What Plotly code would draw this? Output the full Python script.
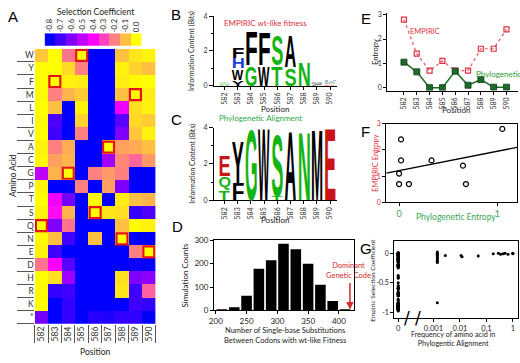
import json
import numpy as np
import plotly.graph_objects as go

W, H = 520, 363

# ---------------- data ----------------
positions = [582, 583, 584, 585, 586, 587, 588, 589, 590]
amino_acids = ['W', 'Y', 'F', 'M', 'L', 'I', 'V', 'A', 'C', 'G', 'P',
               'T', 'S', 'Q', 'N', 'E', 'D', 'H', 'R', 'K', '*']
wt_sequence = ['Q', 'F', 'G', 'W', 'S', 'A', 'N', 'M', 'E']

# selection coefficients, rows = amino_acids, cols = positions
selection_matrix = [
    [-0.09, 0.00, -0.22, 0.00, -0.92, -0.95, -0.10, -0.04, -0.02],   # W
    [0.01, 0.00, -0.06, -0.20, -0.88, -0.93, -0.02, -0.07, -0.10],   # Y
    [0.00, 0.00, -0.02, -0.03, -0.90, -0.96, -0.03, -0.01, 0.00],    # F
    [-0.01, -0.20, -0.12, -0.08, -0.87, -0.94, -0.10, 0.00, -0.03],  # M
    [0.00, -0.10, -0.85, -0.02, -0.90, -0.91, -0.42, -0.05, -0.02],  # L
    [-0.01, -0.68, -0.86, -0.07, -0.92, -0.89, -0.66, -0.06, -0.08], # I
    [0.00, -0.70, -0.83, -0.20, -0.90, -0.88, -0.60, -0.09, -0.02],  # V
    [-0.02, -0.20, -0.13, -0.84, -0.93, 0.00, -0.15, -0.13, -0.10],  # A
    [-0.01, -0.15, -0.12, -0.86, -0.95, -0.55, -0.19, -0.24, -0.16], # C
    [-0.50, -0.12, 0.00, -0.88, -0.20, -0.16, -0.20, -0.90, -0.85],  # G
    [-0.02, -0.87, -0.90, -0.20, -0.85, -0.15, -0.60, -0.88, -0.92], # P
    [0.00, -0.42, -0.62, -0.89, -0.01, -0.86, -0.03, -0.10, -0.12],  # T
    [-0.02, -0.38, -0.12, -0.90, 0.00, -0.04, -0.05, -0.72, -0.68],  # S
    [0.00, -0.60, -0.22, -0.91, -0.88, -0.87, -0.10, -0.01, -0.02],  # Q
    [-0.01, -0.10, -0.70, -0.93, -0.10, -0.90, 0.00, -0.86, -0.90],  # N
    [-0.02, -0.70, -0.80, -0.94, -0.92, -0.90, -0.89, -0.20, 0.00],  # E
    [-0.22, -0.40, -0.66, -0.95, -0.93, -0.92, -0.90, -0.78, -0.88], # D
    [0.00, -0.05, -0.55, -0.92, -0.96, -0.94, -0.05, -0.60, -0.58],  # H
    [-0.01, -0.72, -0.70, -0.93, -0.97, -0.95, -0.04, -0.70, -0.25], # R
    [0.00, -0.88, -0.72, -0.94, -0.98, -0.96, -0.86, -0.70, -0.72],  # K
    [-0.62, -0.90, -0.72, -0.80, -0.74, -0.75, -0.72, -0.73, -0.85], # *
]
colorbar_values = [-0.8, -0.7, -0.6, -0.5, -0.4, -0.3, -0.2, -0.1, 0.0]
colorbar_labels = ['-0.8', '-0.7', '-0.6', '-0.5', '-0.4', '-0.3', '-0.2', '-0.1', '0.0']

# sequence logos: per position, (letter, bits) from bottom to top
empiric_logo = [
    [('A', 0.05), ('S', 0.04), ('G', 0.04), ('T', 0.04)],
    [('Y', 0.35), ('W', 0.65), ('H', 0.6), ('F', 0.6)],
    [('G', 1.2), ('F', 2.1)],
    [('W', 1.2), ('F', 2.0)],
    [('T', 1.2), ('S', 1.8)],
    [('S', 1.05), ('A', 1.95)],
    [('N', 1.4)],
    [('L', 0.05), ('I', 0.04), ('M', 0.04), ('V', 0.04)],
    [('D', 0.08), ('E', 0.07), ('Q', 0.07), ('K', 0.06), ('H', 0.06)],
]
phylo_logo = [
    [('T', 0.5), ('Q', 0.85), ('E', 1.25)],
    [('F', 0.95), ('Y', 2.45)],
    [('G', 4.15)],
    [('W', 4.2)],
    [('T', 0.25), ('S', 3.55)],
    [('A', 4.05)],
    [('N', 3.95)],
    [('M', 4.15)],
    [('E', 4.2)],
]

# D: histogram of simulations
hist_bin_left = [200, 220, 240, 260, 280, 300, 320, 340, 360, 380, 400]
hist_counts = [3, 13, 63, 178, 215, 285, 262, 200, 110, 40, 5]
hist_bin_width = 20
dominant_code = 418

# E / F: entropies
empiric_entropy = [2.8, 1.4, 0.7, 1.1, 0.7, 0.7, 1.6, 1.6, 2.4]
phylo_entropy = [1.05, 0.65, 0.0, 0.0, 0.68, 0.1, 0.33, 0.02, 0.02]

# G: amino acids seen in the phylogenetic alignment (freq > 0)
g_freq = [0.0014, 0.0014, 0.0014, 0.0014, 0.0014, 0.0014, 0.0014, 0.0014,
          0.0014, 0.0014, 0.0014, 0.0028, 0.011, 0.012, 0.049, 0.18, 0.28,
          0.34, 0.42, 0.5, 0.65, 0.97, 1.0]
g_sel = [0.02, 0.0, -0.02, -0.04, -0.06, -0.08, -0.10, -0.12, -0.14, -0.16,
         -0.84, -0.04, -0.04, -0.06, -0.05, -0.01, 0.0, -0.02, -0.01, 0.0,
         -0.02, 0.0, -0.01]
g_tick_text = ['0', '0.001', '0.01', '0.1', '1']
g_tick_freq = [0, 0.001, 0.01, 0.1, 1]

# ---------------- helpers ----------------
def xd(a, b):
    return [a / W, b / W]


def yd(top, bottom):
    return [1 - bottom / H, 1 - top / H]


def px(x):
    return x / W


def py(y):
    return 1 - y / H


FONT = 'Lato, Open Sans, sans-serif'
GREEN = '#14b414'
RED_TXT = '#e0303c'
cscale = [[0, '#0000ff'], [0.5, '#ff00ff'], [1, '#ffff00']]


def letter_color(l):
    if l in 'GSTNQC':
        return GREEN
    if l in 'KRH':
        return '#2040d8'
    if l in 'DE':
        return '#cc1414'
    return '#000000'


fig = go.Figure()
annotations = []
specs = []

# ---------------- A: heatmap ----------------
fig.add_trace(go.Heatmap(z=selection_matrix, x=list(range(len(positions))),
                         y=list(range(len(amino_acids))), colorscale=cscale,
                         zmin=-0.8, zmax=0.0, showscale=False,
                         xaxis='x', yaxis='y', hoverinfo='skip'))
wt_x = [i for i in range(len(positions))]
wt_y = [amino_acids.index(a) for a in wt_sequence]
fig.add_trace(go.Scatter(x=wt_x, y=wt_y, mode='markers', xaxis='x', yaxis='y',
                         marker=dict(symbol='square-open', size=11, color='#e8101a',
                                     line=dict(width=2.2, color='#e8101a')),
                         hoverinfo='skip'))
# colour key strip
fig.add_trace(go.Heatmap(z=[colorbar_values], x=list(range(len(colorbar_values))), y=[0],
                         colorscale=cscale, zmin=-0.8, zmax=0.0, showscale=False,
                         xaxis='x2', yaxis='y2', hoverinfo='skip'))


# ---------------- B, C: logos ----------------
def add_logo(logo, xa, ya, xname, yname):
    for i, pos in enumerate(positions):
        base = 0.0
        for letter, bits in logo[i]:
            annotations.append(dict(text=letter, x=pos, y=base, xref=xa, yref=ya,
                                    xanchor='center', yanchor='bottom', showarrow=False,
                                    opacity=0.45 if bits < 0.2 else 1.0,
                                    font=dict(family='Liberation Sans', size=12,
                                              color=letter_color(letter), weight='bold')))
            specs.append([len(annotations) - 1, xname, yname,
                          pos - 0.46, pos + 0.46, base, base + bits])
            base += bits


add_logo(empiric_logo, 'x3', 'y3', 'xaxis3', 'yaxis3')
add_logo(phylo_logo, 'x4', 'y4', 'xaxis4', 'yaxis4')
fig.add_trace(go.Scatter(x=[positions[0]], y=[0], xaxis='x3', yaxis='y3', mode='markers',
                         marker=dict(size=1, opacity=0), hoverinfo='skip'))
fig.add_trace(go.Scatter(x=[positions[0]], y=[0], xaxis='x4', yaxis='y4', mode='markers',
                         marker=dict(size=1, opacity=0), hoverinfo='skip'))

# ---------------- D: histogram ----------------
fig.add_trace(go.Bar(x=[b + hist_bin_width / 2 for b in hist_bin_left], y=hist_counts,
                     width=hist_bin_width * 0.86, marker=dict(color='black', line=dict(width=0)),
                     xaxis='x5', yaxis='y5', hoverinfo='skip'))

# ---------------- E: entropy per position ----------------
fig.add_trace(go.Scatter(x=positions, y=empiric_entropy, mode='lines+markers',
                         line=dict(color='#ea5560', width=1.2, dash='dot'),
                         marker=dict(symbol='square-open', size=5, color='#e03040',
                                     line=dict(width=1.2)),
                         xaxis='x6', yaxis='y6', hoverinfo='skip'))
fig.add_trace(go.Scatter(x=positions, y=phylo_entropy, mode='lines+markers',
                         line=dict(color='#1f6e2c', width=1.5),
                         marker=dict(symbol='square', size=6, color='#1e6a28',
                                     line=dict(width=0.8, color='#0d3d14')),
                         xaxis='x6', yaxis='y6', hoverinfo='skip'))

# ---------------- F: scatter + regression ----------------
F_XR = [-0.13, 1.2]
slope, intercept = np.polyfit(phylo_entropy, empiric_entropy, 1)
fig.add_trace(go.Scatter(x=F_XR, y=[slope * v + intercept for v in F_XR], mode='lines',
                         line=dict(color='black', width=1.3), xaxis='x7', yaxis='y7',
                         hoverinfo='skip'))
fig.add_trace(go.Scatter(x=phylo_entropy, y=empiric_entropy, mode='markers',
                         marker=dict(symbol='circle-open', size=5, color='black',
                                     line=dict(width=1.2)),
                         xaxis='x7', yaxis='y7', hoverinfo='skip'))

# ---------------- G: selection vs phylo frequency ----------------
ZERO_POS = -1.33


def g_pos(f):
    return ZERO_POS if f == 0 else np.log10(f) + 3


zero_sel = []
for r, aa in enumerate(amino_acids):
    if aa == '*':
        continue
    for c in range(len(positions)):
        if wt_sequence[c] != aa:
            zero_sel.append(selection_matrix[r][c])
gx = [g_pos(0)] * len(zero_sel) + [g_pos(f) for f in g_freq]
gy = zero_sel + g_sel
fig.add_trace(go.Scatter(x=gx, y=gy, mode='markers',
                         marker=dict(size=3, color='black'),
                         xaxis='x8', yaxis='y8', hoverinfo='skip'))

# ---------------- axes ----------------
base_ax = dict(showgrid=False, zeroline=False, tickfont=dict(family=FONT, size=8, color='#222'),
               linecolor='black', linewidth=1, tickcolor='black')

layout = dict(
    width=W, height=H, margin=dict(l=0, r=0, t=0, b=0),
    paper_bgcolor='white', plot_bgcolor='white', showlegend=False,
    font=dict(family=FONT, size=8, color='#222'),
)

n_pos = len(positions)
n_aa = len(amino_acids)
layout['xaxis'] = dict(base_ax, domain=xd(30, 152), anchor='y', range=[-0.5, n_pos - 0.5],
                       tickvals=list(range(n_pos)), ticktext=[str(p) for p in positions],
                       tickangle=-90, ticks='', showline=False,
                       tickfont=dict(family=FONT, size=8.5, color='#333'),
                       minor=dict(tickmode='array', tickvals=[i - 0.5 for i in range(n_pos + 1)],
                                  ticks='outside', ticklen=18, tickcolor='#555', tickwidth=1))
layout['yaxis'] = dict(base_ax, domain=yd(45, 328), anchor='x', range=[n_aa - 0.5, -0.5],
                       tickvals=list(range(n_aa)), ticktext=amino_acids, ticks='', showline=False,
                       tickfont=dict(family=FONT, size=8.5, color='#333'),
                       minor=dict(tickmode='array', tickvals=[i + 0.5 for i in range(n_aa)],
                                  ticks='outside', ticklen=17, tickcolor='#555', tickwidth=1))
layout['xaxis2'] = dict(base_ax, domain=xd(40, 138), anchor='y2', side='top',
                        range=[-0.5, len(colorbar_values) - 0.5],
                        tickvals=list(range(len(colorbar_values))), ticktext=colorbar_labels,
                        tickangle=-90, ticks='', showline=False,
                        tickfont=dict(family=FONT, size=7.5, color='#222'))
layout['yaxis2'] = dict(domain=yd(29, 42), anchor='x2', visible=False, range=[-0.5, 0.5])

logo_x = dict(base_ax, range=[581.2, 590.5], tickvals=positions, ticktext=[str(p) for p in positions],
              tickangle=-90, ticks='outside', ticklen=3, showline=True,
              tickfont=dict(family=FONT, size=7, color='#333'))
logo_y = dict(base_ax, range=[0, 4], tickvals=[0, 2, 4], ticks='outside', ticklen=4, showline=True,
              minor=dict(dtick=1, ticks='outside', ticklen=2, tickcolor='black'),
              tickfont=dict(family=FONT, size=7, color='#333'))
layout['xaxis3'] = dict(logo_x, domain=xd(211, 335), anchor='y3')
layout['yaxis3'] = dict(logo_y, domain=yd(11.5, 83), anchor='x3')
layout['xaxis4'] = dict(logo_x, domain=xd(211, 335), anchor='y4')
layout['yaxis4'] = dict(logo_y, domain=yd(126, 201), anchor='x4')

layout['xaxis5'] = dict(base_ax, domain=xd(211, 352), anchor='y5', range=[197, 424],
                        tickvals=[200, 250, 300, 350, 400], ticks='outside', ticklen=3,
                        showline=True, mirror=True, tickfont=dict(family=FONT, size=8, color='#222'))
layout['yaxis5'] = dict(base_ax, domain=yd(242, 314), anchor='x5', range=[0, 300],
                        tickvals=[0, 100, 200, 300], ticks='outside', ticklen=3,
                        showline=True, mirror=True, tickfont=dict(family=FONT, size=8, color='#222'))

layout['xaxis6'] = dict(base_ax, domain=xd(386, 518), anchor='y6', range=[580.7, 590.9],
                        tickvals=positions, ticktext=[str(p) for p in positions], tickangle=-90,
                        ticks='outside', ticklen=3, showline=True,
                        tickfont=dict(family=FONT, size=7, color='#333'))
layout['yaxis6'] = dict(base_ax, domain=yd(8, 88), anchor='x6', range=[-0.12, 3.08],
                        tickvals=[0, 1, 2, 3], ticks='outside', ticklen=3, showline=True,
                        tickfont=dict(family=FONT, size=7, color='#333'))

layout['xaxis7'] = dict(base_ax, domain=xd(385, 517), anchor='y7', range=F_XR,
                        tickvals=[0, 1], ticks='outside', ticklen=3, showline=True, mirror=True,
                        tickfont=dict(family=FONT, size=9, color='#3aa655'))
layout['yaxis7'] = dict(base_ax, domain=yd(122, 203), anchor='x7', range=[0, 3],
                        tickvals=[0, 1, 2, 3], ticks='outside', ticklen=3, showline=True, mirror=True,
                        tickfont=dict(family=FONT, size=7, color=RED_TXT))

layout['xaxis8'] = dict(base_ax, domain=xd(393, 518), anchor='y8', range=[-1.48, 3.19],
                        tickvals=[g_pos(f) for f in g_tick_freq], ticktext=g_tick_text,
                        ticks='outside', ticklen=3, showline=True, mirror=True,
                        tickfont=dict(family=FONT, size=7.5, color='#222'))
layout['yaxis8'] = dict(base_ax, domain=yd(243, 322), anchor='x8', range=[-1.1, 0.2],
                        tickvals=[0, -0.5, -1], ticktext=['0', '-0.5', '-1'],
                        ticks='outside', ticklen=3, showline=True, mirror=True,
                        tickfont=dict(family=FONT, size=7, color='#222'))


# ---------------- text annotations ----------------
def ptext(text, x, y, size=8, color='#222', angle=0, xanchor='center', yanchor='middle',
          family=FONT, align='center'):
    annotations.append(dict(text=text, x=px(x), y=py(y), xref='paper', yref='paper',
                            showarrow=False, textangle=angle, xanchor=xanchor, yanchor=yanchor,
                            align=align, font=dict(family=family, size=size, color=color)))


for letter, (lx, ly) in zip('ABCDEFG', [(8, 12), (173, 10), (173, 118), (174, 228),
                                         (364, 14), (364, 130), (364, 250)]):
    ptext(letter, lx, ly, size=15, color='black', family='Liberation Sans')

ptext('Selection Coefficient', 91, 7, size=8.5)
ptext('Amino Acid', 8, 175, size=8.5, angle=-90)
ptext('Position', 91, 357, size=8.5)

ptext('EMPIRIC wt-like fitness', 219, 18, size=8, color=RED_TXT, xanchor='left')
ptext('Information Content (Bits)', 189, 47, size=7, angle=-90)
ptext('Position', 273, 107, size=8)
ptext('Phylogenetic Alignment', 214, 116, size=8, color='#2aa84a', xanchor='left')
ptext('Information Content (Bits)', 189, 163, size=7, angle=-90)
ptext('Position', 273, 221, size=8)

ptext('Simulation Counts', 182, 278, size=8, angle=-90)
ptext('Number of Single-base Substitutions<br>Between Codons with wt-like Fitness',
      283, 328, size=7.5, yanchor='top')
annotations.append(dict(text='Dominant<br>Genetic Code', x=dominant_code - 2, y=172,
                        xref='x5', yref='y5', showarrow=False, xanchor='center', yanchor='middle',
                        align='center', font=dict(family=FONT, size=7.5, color='#d42a2a')))
annotations.append(dict(text='', x=dominant_code, y=4, xref='x5', yref='y5', showarrow=True,
                        ax=0, ay=-28, arrowhead=2, arrowsize=1, arrowwidth=1.5,
                        arrowcolor='#d42a2a'))

ptext('Entropy', 374, 48, size=7.5, angle=-90)
annotations.append(dict(text='EMPIRIC', x=583.65, y=2.3, xref='x6', yref='y6', showarrow=False,
                        font=dict(family=FONT, size=7.5, color=RED_TXT)))
annotations.append(dict(text='Phylogenetic', x=589.4, y=0.57, xref='x6', yref='y6',
                        showarrow=False, font=dict(family=FONT, size=8, color='#2a9a3a')))
ptext('Position', 455, 108, size=8)

ptext('EMPIRIC Entropy', 374, 162, size=7.5, angle=-90, color=RED_TXT)
ptext('Phylogenetic Entropy', 455, 218, size=8.5, color='#3aa655')

ptext('Empiric Selection Coefficient', 371, 283, size=6.5, angle=-90)
ptext('Frequency of amino acid in<br>Phylogentic Alignment', 452, 332, size=7.2, yanchor='top')
for bx in [-1.0, -0.59]:
    annotations.append(dict(text='/', x=bx, y=-1.1, xref='x8', yref='y8', showarrow=False,
                            xanchor='center', yanchor='middle',
                            font=dict(family='DejaVu Sans', size=17, color='black')))

layout['annotations'] = annotations
fig.update_layout(layout)

# stretch logo letters to fill their stack rectangles (letters stay real text)
post_js = """
(function(){
var gd = document.getElementById('{plot_id}');
document.body.style.margin = '0';
var specs = SPECS;
var ctx = document.createElement('canvas').getContext('2d');
var fl = gd._fullLayout;
specs.forEach(function(s){
  try {
  var g = gd.querySelector('g.annotation[data-index="' + s[0] + '"]');
  if (!g) return;
  var t = g.querySelector('text.annotation-text');
  if (!t) return;
  t.removeAttribute('transform');
  var xa = fl[s[1]], ya = fl[s[2]];
  var X0 = xa._offset + xa.l2p(s[3]), X1 = xa._offset + xa.l2p(s[4]);
  var YB = ya._offset + ya.l2p(s[5]), YT = ya._offset + ya.l2p(s[6]);
  var cs = window.getComputedStyle(t);
  ctx.font = cs.fontStyle + ' ' + cs.fontWeight + ' ' + cs.fontSize + ' ' + cs.fontFamily;
  var m = ctx.measureText(t.textContent);
  var bb = t.getBBox();
  var base = bb.y + m.fontBoundingBoxAscent;
  var iL = bb.x - m.actualBoundingBoxLeft, iR = bb.x + m.actualBoundingBoxRight;
  var iT = base - m.actualBoundingBoxAscent, iB = base + m.actualBoundingBoxDescent;
  var inv = t.getCTM().inverse();
  var p0 = new DOMPoint(X0, YT).matrixTransform(inv);
  var p1 = new DOMPoint(X1, YB).matrixTransform(inv);
  var sx = (p1.x - p0.x) / (iR - iL), sy = (p1.y - p0.y) / (iB - iT);
  t.setAttribute('transform', 'translate(' + p0.x + ',' + p0.y + ') scale(' + sx + ',' + sy +
                 ') translate(' + (-iL) + ',' + (-iT) + ')');
  } catch (e) {}
});
})();
""".replace('SPECS', json.dumps(specs))

fig.write_html("out.html", post_script=post_js, config={'displayModeBar': False})
